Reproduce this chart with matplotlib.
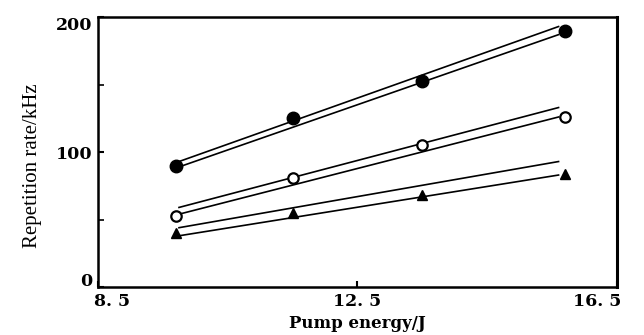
import matplotlib.pyplot as plt
from matplotlib.transforms import ScaledTranslation

# measured points (pump energy in J, repetition rate in kHz)
energy = [9.7, 11.5, 13.5, 15.7]
rate_filled = [90, 125, 153, 190]
rate_open = [53, 81, 105, 126]
rate_tri = [40, 55, 68, 84]

# fitted lines, drawn as pairs between start and end energy
fit_x = [9.75, 15.6]
fit_filled_hi = [93, 193]
fit_filled_lo = [89, 187]
fit_open_hi = [59, 133]
fit_open_lo = [54, 126]
fit_tri_hi = [44, 93]
fit_tri_lo = [38, 83]

xticks = [8.5, 12.5, 16.5]
xtick_labels = ["8. 5", "12. 5", "16. 5"]
yticks = [0, 100, 200]


def plot_rates():
    fig = plt.figure(figsize=(6.44, 3.35), dpi=100)
    ax = fig.add_axes([0.152, 0.143, 0.806, 0.806])

    for hi, lo in [(fit_filled_hi, fit_filled_lo),
                   (fit_open_hi, fit_open_lo),
                   (fit_tri_hi, fit_tri_lo)]:
        ax.plot(fit_x, hi, color="black", lw=1.2)
        ax.plot(fit_x, lo, color="black", lw=1.2)

    ax.plot(energy, rate_filled, "o", color="black", ms=9, zorder=3)
    ax.plot(energy, rate_open, "o", mfc="white", mec="black", mew=1.6, ms=7.5, zorder=3)
    ax.plot(energy, rate_tri, "^", color="black", ms=7.5, zorder=3)

    ax.set_xlim(8.5, 16.5)
    ax.set_ylim(0, 200)
    ax.set_xticks(xticks)
    ax.set_xticklabels(xtick_labels)
    ax.set_yticks(yticks)
    ax.set_yticks([50, 150], minor=True)
    ax.tick_params(direction="in", length=4, width=1.5, pad=4)
    ax.tick_params(which="minor", direction="in", length=4, width=1.2)
    for lab in ax.get_xticklabels() + ax.get_yticklabels():
        lab.set_fontfamily("DejaVu Serif")
        lab.set_fontweight("bold")
        lab.set_fontsize(12.5)

    # end labels sit inside the axis range like in the original print
    xl = ax.get_xticklabels()
    xl[0].set_transform(xl[0].get_transform() + ScaledTranslation(0.14, 0, fig.dpi_scale_trans))
    xl[2].set_transform(xl[2].get_transform() + ScaledTranslation(-0.2, 0, fig.dpi_scale_trans))
    yl = ax.get_yticklabels()
    yl[0].set_verticalalignment("bottom")
    yl[0].set_transform(yl[0].get_transform() + ScaledTranslation(0, -0.03, fig.dpi_scale_trans))
    yl[2].set_verticalalignment("top")

    for side in ["left", "bottom", "top"]:
        ax.spines[side].set_linewidth(1.8)
    ax.spines["right"].set_linewidth(2.2)

    ax.set_xlabel("Pump energy/J", family="DejaVu Serif", fontweight="bold",
                  fontsize=12, labelpad=4)
    ax.set_ylabel("Repetition rate/kHz", family="Liberation Serif", fontsize=15)
    ax.yaxis.set_label_coords(-0.108, 0.45)

    fig.savefig("out.png", dpi=100)


plot_rates()
